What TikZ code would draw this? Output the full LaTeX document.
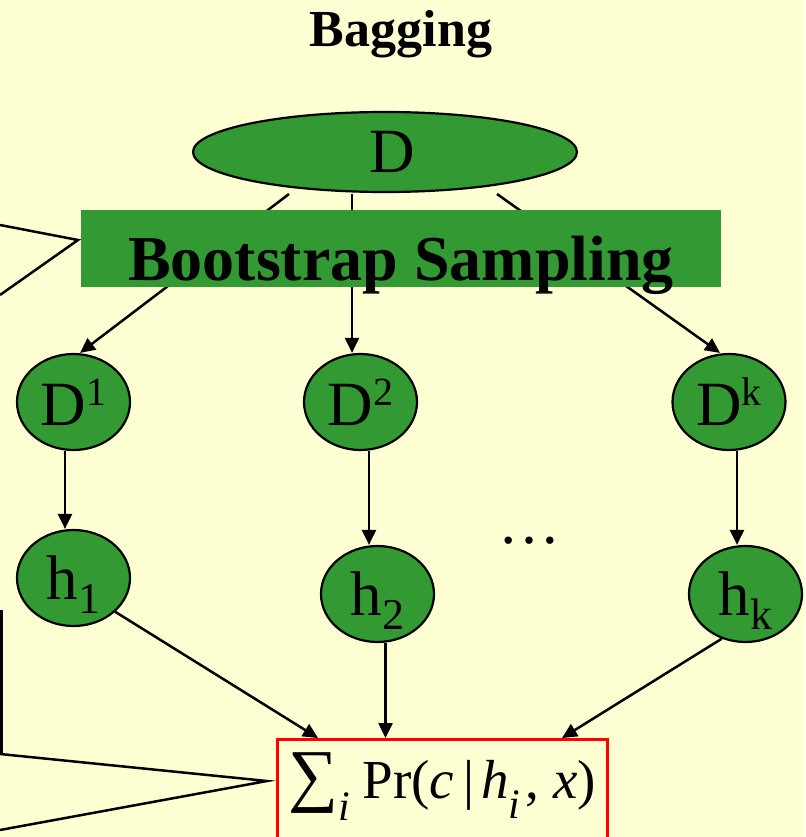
\documentclass[tikz,border=0pt]{standalone}
\usepackage{fontspec}
\setmainfont{Liberation Serif}
\usetikzlibrary{arrows.meta,shapes.geometric,calc}
\definecolor{bg}{HTML}{FFFFD4}
\definecolor{grn}{HTML}{339933}
\definecolor{rd}{HTML}{FF0000}
\newcommand\supx[1]{\raisebox{20pt}{\fontsize{40}{40}\selectfont #1}}
\newcommand\subx[1]{\raisebox{-14pt}{\fontsize{44}{44}\selectfont #1}}
\begin{document}
\begin{tikzpicture}[x=1pt,y=-1pt,
  ell/.style={ellipse, draw=black, fill=grn, line width=2.2pt, inner sep=0pt,
              minimum width=113pt, minimum height=96pt, text depth=0pt,
              font=\fontsize{63}{63}\selectfont},
  arr/.style={-{Triangle[length=15pt,width=14pt]}, line width=2.5pt},
  plain/.style={line width=2.5pt},
]
\fill[bg] (0,0) rectangle (805,837);
\useasboundingbox (0,0) rectangle (805,837);

% title
\node[font=\bfseries\fontsize{52}{52}\selectfont, anchor=base, inner sep=0pt] (title) at (401,47) {Bagging};

% top ellipse
\node[ell, minimum width=384pt, minimum height=80pt] (D) at (385,152) {};
\node[font=\fontsize{63}{63}\selectfont, text depth=0pt, inner sep=0pt] (Dlab) at (392,152) {D};

% data sets
\node[ell] (D1) at (73.5,402) {D\supx{1}};
\node[ell] (D2) at (360.5,402) {D\supx{2}};
\node[ell] (Dk) at (729,402) {D\supx{k}};

% hypotheses
\node[ell] (h1) at (73.5,578) {h\subx{1}};
\node[ell] (h2) at (377.5,594) {h\subx{2}};
\node[ell] (hk) at (745.5,594) {h\subx{k}};

% dots
\node[font=\fontsize{62}{62}\selectfont, anchor=base, inner sep=0pt] (dots) at (529,543) {…};

% sum box
\node[draw=rd, line width=3pt, minimum width=330pt, minimum height=99pt, inner sep=0pt, anchor=north west] (S) at (276,738) {};
\node[anchor=base west, inner sep=0pt, font=\fontsize{55}{55}\selectfont] (St) at (288,798)
  {{\fontsize{70}{70}\selectfont ∑}\raisebox{-22pt}{\fontsize{42}{42}\selectfont\itshape i}\hspace{13pt}Pr(\textit{c}\hspace{9pt}|\hspace{7pt}\textit{h}\raisebox{-20pt}{\fontsize{42}{42}\selectfont\itshape i}\hspace{5pt}, \textit{x})};

% connectors from D
\coordinate (s1) at (289,194);
\coordinate (s2) at (352,194);
\coordinate (s3) at (497,194);
\draw[arr] (s1) -- ([xshift=6.5pt]D1.north);
\draw[arr] (s2) -- (s2 |- D2.north);
\draw[arr] (s3) -- ([xshift=-9pt]Dk.north);

% bootstrap box
\node[fill=grn, minimum width=640pt, minimum height=77pt, inner sep=0pt] (B) at (401,248.5) {};
\node[font=\bfseries\fontsize{64}{64}\selectfont, anchor=base, inner sep=0pt] (Bt) at (401,280) {Bootstrap Sampling};

% D -> h
\draw[arr] ([xshift=-8.5pt]D1.south) -- ([xshift=-8.5pt]D1.south |- h1.north);
\draw[arr] ([xshift=8.5pt]D2.south) -- ([xshift=8.5pt]D2.south |- h2.north);
\draw[arr] ([xshift=8pt]Dk.south) -- ([xshift=8pt]Dk.south |- hk.north);

% h -> sum
\draw[arr] (h1.-39) -- (318,0 |- S.north);
\draw[arr] ([xshift=8pt]h2.south) -- ([xshift=8pt]h2.south |- S.north);
\draw[arr] (hk.-118) -- (562,0 |- S.north);

% callout lines on the left
\coordinate (c1) at (0,225);
\coordinate (c2) at (78,240);
\coordinate (c3) at (0,295);
\draw[plain] (c1) -- (c2) -- (c3);
\coordinate (c4) at (1.5,610);
\coordinate (c5) at (1.5,754);
\coordinate (c6) at (267,781);
\coordinate (c7) at (0,830);
\draw[line width=3pt] (c4) -- (c5);
\draw[plain] (0,754) -- (c6) -- (c7);
\end{tikzpicture}
\end{document}
